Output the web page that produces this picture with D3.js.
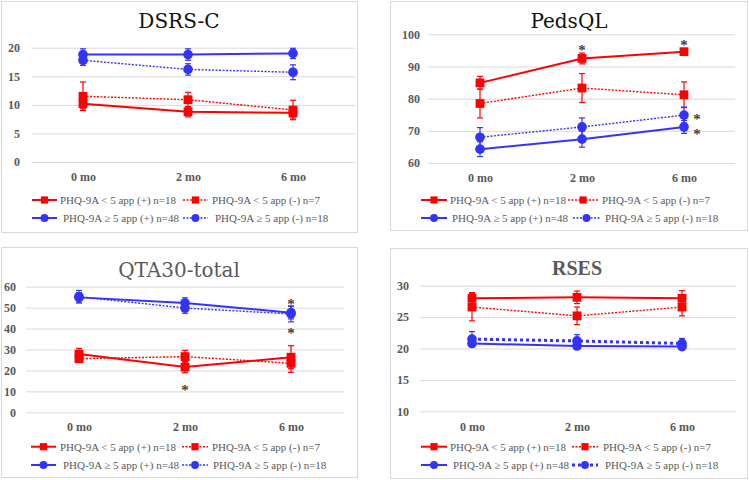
<!DOCTYPE html>
<html>
<head>
<meta charset="utf-8">
<script src="https://cdn.jsdelivr.net/npm/d3@7"></script>
<style>
  body { margin: 0; background: #fff; }
  svg { display: block; }
</style>
</head>
<body>
<svg id="viz" width="749" height="480"></svg>
<script>
// categories and series
var months = ["0 mo", "2 mo", "6 mo"];
var seriesNames = ["PHQ-9A < 5 app (+) n=18", "PHQ-9A < 5 app (-) n=7",
                   "PHQ-9A \u2265 5 app (+) n=48", "PHQ-9A \u2265 5 app (-) n=18"];

// DSRS-C  (mean per month, then error half-width)
var dsrsMean = [[10.2, 8.8, 8.6], [11.5, 10.9, 9.1], [18.8, 18.8, 19.0], [17.8, 16.2, 15.7]];
var dsrsErr  = [[0.9, 0.9, 0.9], [2.5, 1.3, 1.7], [1.0, 1.0, 0.9], [0.9, 1.0, 1.3]];
var dsrsStars = [];

// PedsQL
var pedsMean = [[84.9, 92.5, 94.6], [78.5, 83.3, 81.2], [64.3, 67.4, 71.2], [68.0, 71.2, 74.9]];
var pedsErr  = [[2.0, 1.7, 0.8], [4.5, 4.5, 4.0], [2.3, 2.5, 2.0], [3.0, 2.8, 2.5]];
var pedsStars = [["2 mo", 96.5, 0], ["6 mo", 97.8, 0], ["6 mo", 75.0, 13], ["6 mo", 70.2, 13]];

// QTA30-total
var qtaMean = [[27.8, 21.6, 26.3], [25.6, 26.6, 23.4], [54.9, 52.2, 47.6], [55.2, 49.8, 47.0]];
var qtaErr  = [[2.7, 2.7, 5.5], [1.8, 3.0, 4.3], [2.3, 2.5, 3.0], [3.0, 2.5, 3.8]];
var qtaStars = [["2 mo", 12.8, 0], ["6 mo", 53.6, 0], ["6 mo", 39.6, 0]];

// RSES
var rsesMean = [[28.0, 28.15, 28.0], [26.6, 25.2, 26.6], [20.8, 20.4, 20.3], [21.5, 21.2, 20.8]];
var rsesErr  = [[0.9, 1.0, 1.2], [2.2, 1.4, 1.4], [0.4, 0.4, 0.4], [1.2, 1.0, 0.8]];
var rsesStars = [];

// styles per series
var seriesColor = ["#ff0000", "#ff0000", "#3333ff", "#3333ff"];
var seriesShape = ["square", "square", "circle", "circle"];
var serif = "'Liberation Serif', 'Times New Roman', Times, serif";

var panels = [
  { title: "DSRS-C", tfont: "'DejaVu Serif'", tweight: "normal", tcolor: "#111", tx: 179, ty: 28,
    box: [1, 1, 356, 231], domain: [0, 20], yr: [162, 47.7], ticks: [0, 5, 10, 15, 20],
    gx: [32, 355], pad: 12, xr: [83, 293], xl: 181,
    mean: dsrsMean, err: dsrsErr, stars: dsrsStars, dots: [null, "2,1.5", null, "2,1.5"], dw: [2, 1.4, 2, 1.4],
    legY: [200, 218], legLine: [[32, 57], [183, 208], [32, 57], [183, 208]], legText: [60, 212, 63, 215] },
  { title: "PedsQL", tfont: "'DejaVu Serif'", tweight: "normal", tcolor: "#111", tx: 569, ty: 28,
    box: [390, 1, 357, 229], domain: [60, 100], yr: [163, 34.3], ticks: [60, 70, 80, 90, 100],
    gx: [428, 735], pad: 8, xr: [480, 684], xl: 182,
    mean: pedsMean, err: pedsErr, stars: pedsStars, dots: [null, "2,1.5", null, "2,1.5"], dw: [2, 1.4, 2, 1.4],
    legY: [200, 218], legLine: [[421, 447], [568, 598], [421, 447], [573, 600]], legText: [450, 602, 452, 605] },
  { title: "QTA30-total", tfont: "'DejaVu Serif'", tweight: "normal", tcolor: "#595959", tx: 179, ty: 276.5,
    box: [1, 247, 356, 230], domain: [0, 60], yr: [412.3, 286.7], ticks: [0, 10, 20, 30, 40, 50, 60],
    gx: [26, 344], pad: 10, xr: [79, 291], xl: 431,
    mean: qtaMean, err: qtaErr, stars: qtaStars, dots: [null, "2,1.5", null, "2,1.5"], dw: [2, 1.4, 2, 1.4],
    legY: [446.7, 465], legLine: [[31, 56], [182, 208], [31, 56], [182, 208]], legText: [60, 212, 63, 213] },
  { title: "RSES", tfont: serif, tweight: "bold", tcolor: "#595959", tx: 577, ty: 275,
    box: [390, 248, 357, 230], domain: [10, 30], yr: [411.3, 285.7], ticks: [10, 15, 20, 25, 30],
    gx: [420, 736], pad: 11, xr: [472, 682], xl: 431,
    mean: rsesMean, err: rsesErr, stars: rsesStars, dots: [null, "2,1.5", null, "3,3"], dw: [2, 1.4, 2, 3],
    legY: [446.7, 465], legLine: [[421, 447], [572, 598], [421, 447], [572, 598]], legText: [450, 603, 453, 605] }
];

var svg = d3.select("#viz");

function drawMarker(g, shape, color, x, y, s) {
  if (shape == "square") {
    g.append("rect").attr("x", x - s).attr("y", y - s).attr("width", 2 * s).attr("height", 2 * s)
      .style("fill", color);
  } else {
    g.append("circle").attr("cx", x).attr("cy", y).attr("r", s * 1.1).style("fill", color);
  }
}

panels.forEach(function(p) {
  var g = svg.append("g");

  g.append("rect")
    .attr("x", p.box[0] + 0.5).attr("y", p.box[1] + 0.5)
    .attr("width", p.box[2]).attr("height", p.box[3])
    .style("fill", "none").style("stroke", "#d9d9d9");

  g.append("text")
    .attr("x", p.tx).attr("y", p.ty)
    .attr("text-anchor", "middle")
    .style("font-family", p.tfont).style("font-weight", p.tweight)
    .style("font-size", "20px").style("fill", p.tcolor)
    .text(p.title);

  var y = d3.scaleLinear().domain(p.domain).range(p.yr);
  var x = d3.scalePoint().domain(months).range(p.xr);

  // y axis + gridlines
  var yAxis = d3.axisLeft(y).tickValues(p.ticks)
    .tickSize(-(p.gx[1] - p.gx[0])).tickPadding(p.pad);
  var ya = g.append("g").attr("transform", "translate(" + p.gx[0] + ",0)").call(yAxis);
  ya.select(".domain").remove();
  ya.selectAll(".tick line").style("stroke", "#d9d9d9").style("stroke-width", 1);
  ya.selectAll(".tick text")
    .style("font-family", serif).style("font-weight", "bold")
    .style("font-size", "12px").style("fill", "#595959");

  // x axis labels
  var xa = g.append("g").attr("transform", "translate(0," + p.xl + ")")
    .call(d3.axisBottom(x).tickSize(0).tickPadding(0));
  xa.select(".domain").remove();
  xa.selectAll(".tick text").attr("dy", 0)
    .style("font-family", serif).style("font-weight", "bold")
    .style("font-size", "12px").style("fill", "#595959");

  var line = d3.line()
    .x(function(d, i) { return x(months[i]); })
    .y(function(d) { return y(d); });

  p.mean.forEach(function(vals, s) {
    var color = seriesColor[s];
    var sg = g.append("g");

    // error bars
    vals.forEach(function(v, i) {
      var cx = x(months[i]), e = p.err[s][i];
      sg.append("line").attr("x1", cx).attr("x2", cx)
        .attr("y1", y(v - e)).attr("y2", y(v + e))
        .style("stroke", color).style("stroke-width", 1.2);
      [v - e, v + e].forEach(function(t) {
        sg.append("line").attr("x1", cx - 3).attr("x2", cx + 3)
          .attr("y1", y(t)).attr("y2", y(t))
          .style("stroke", color).style("stroke-width", 1.2);
      });
    });

    sg.append("path").datum(vals).attr("d", line)
      .style("fill", "none").style("stroke", color)
      .style("stroke-width", p.dw[s])
      .style("stroke-dasharray", p.dots[s]);

    vals.forEach(function(v, i) {
      drawMarker(sg, seriesShape[s], color, x(months[i]), y(v), 4.4);
    });
  });

  // significance asterisks
  p.stars.forEach(function(st) {
    g.append("text")
      .attr("x", x(st[0]) + st[2]).attr("y", y(st[1]) + 9)
      .attr("text-anchor", "middle")
      .style("font-family", serif).style("font-weight", "bold")
      .style("font-size", "15px").style("fill", "#404040")
      .text("*");
  });

  // legend
  seriesNames.forEach(function(name, s) {
    var ly = p.legY[Math.floor(s / 2)];
    var ll = p.legLine[s];
    var color = seriesColor[s];
    g.append("line").attr("x1", ll[0]).attr("x2", ll[1]).attr("y1", ly).attr("y2", ly)
      .style("stroke", color).style("stroke-width", p.dw[s])
      .style("stroke-dasharray", p.dots[s]);
    drawMarker(g, seriesShape[s], color, (ll[0] + ll[1]) / 2, ly, 3.6);
    g.append("text").attr("x", p.legText[s]).attr("y", ly + 4)
      .style("font-family", serif).style("font-size", "11px")
      .style("fill", "#595959")
      .text(name);
  });
});
</script>
</body>
</html>
